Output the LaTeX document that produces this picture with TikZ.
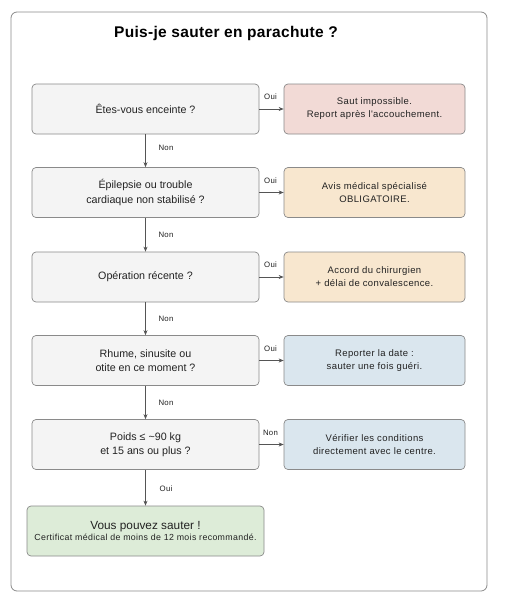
\documentclass[tikz,border=0pt]{standalone}
\usepackage{fontspec}
\setmainfont{Liberation Sans}
\newfontfamily\widefont[LetterSpace=4]{Liberation Sans}
\newfontfamily\midfont[LetterSpace=4]{Liberation Sans}
\newfontfamily\titlefont[LetterSpace=2]{Liberation Sans}
\usetikzlibrary{arrows.meta}
\definecolor{qfill}{HTML}{F4F4F4}
\definecolor{qdraw}{HTML}{8A8A8A}
\definecolor{redf}{HTML}{F2DAD6}
\definecolor{orf}{HTML}{F8E7CF}
\definecolor{bluf}{HTML}{DAE6EE}
\definecolor{grnf}{HTML}{DDECD8}
\definecolor{txt}{HTML}{222222}
\definecolor{arr}{HTML}{555555}
\tikzset{
  qbox/.style={draw=qdraw, fill=qfill, rounded corners=4pt, line width=0.7pt, minimum width=227pt, minimum height=50pt, align=center, font=\fontsize{10.7}{14.5}\selectfont, text=txt, inner sep=0pt},
  abox/.style={draw=qdraw, rounded corners=4pt, line width=0.7pt, minimum width=181pt, minimum height=50pt, align=center, font=\widefont\fontsize{9.5}{13}\selectfont, text=txt, inner sep=0pt},
  conn/.style={draw=arr, line width=0.7pt, -{Stealth[length=5pt,width=4pt]}},
  lab/.style={font=\midfont\fontsize{7.8}{9}\selectfont, text=txt, inner sep=0pt}
}
\begin{document}
\begin{tikzpicture}[x=1pt,y=-1pt]
\useasboundingbox (0,0) rectangle (510,600);
\draw[draw=qdraw, line width=0.8pt, rounded corners=6pt, fill=white] (11,12) rectangle (487,591);
\node[font=\titlefont\bfseries\fontsize{15.5}{17}\selectfont, text=black] (title) at (226,33) {Puis-je sauter en parachute ?};

\node[qbox] (q1) at (145.5,109) {Êtes-vous enceinte ?};
\node[qbox] (q2) at (145.5,192.5) {Épilepsie ou trouble\\cardiaque non stabilisé ?};
\node[qbox] (q3) at (145.5,277) {Opération récente ?};
\node[qbox] (q4) at (145.5,360.5) {Rhume, sinusite ou\\otite en ce moment ?};
\node[qbox] (q5) at (145.5,444.5) {Poids ≤ \textasciitilde 90 kg\\et 15 ans ou plus ?};

\node[abox, fill=redf] (a1) at (374.5,109) {Saut impossible.\\Report après l'accouchement.};
\node[abox, fill=orf] (a2) at (374.5,192.5) {Avis médical spécialisé\\OBLIGATOIRE.};
\node[abox, fill=orf] (a3) at (374.5,277) {Accord du chirurgien\\+ délai de convalescence.};
\node[abox, fill=bluf] (a4) at (374.5,360.5) {Reporter la date :\\sauter une fois guéri.};
\node[abox, fill=bluf] (a5) at (374.5,444.5) {Vérifier les conditions\\directement avec le centre.};

\node[draw=qdraw, fill=grnf, rounded corners=4pt, line width=0.7pt, minimum width=237pt, minimum height=50pt, align=center, text=txt, inner sep=0pt] (ok) at (145.5,531) {{\fontsize{11.8}{13}\selectfont Vous pouvez sauter !}\\[-1pt]{\midfont\fontsize{8.8}{10}\selectfont Certificat médical de moins de 12 mois recommandé.}};

\foreach \i in {1,...,5} {
  \draw[conn] (q\i.east) -- (a\i.west);
}
\draw[conn] (q1.south) -- (q2.north);
\draw[conn] (q2.south) -- (q3.north);
\draw[conn] (q3.south) -- (q4.north);
\draw[conn] (q4.south) -- (q5.north);
\draw[conn] (q5.south) -- (ok.north);

\node[lab] (o1) at (270.5,97) {Oui};
\node[lab] (o2) at (270.5,181) {Oui};
\node[lab] (o3) at (270.5,265) {Oui};
\node[lab] (o4) at (270.5,348.5) {Oui};
\node[lab] (o5) at (270.5,432.5) {Non};

\node[lab] (n1) at (166,148) {Non};
\node[lab] (n2) at (166,235) {Non};
\node[lab] (n3) at (166,318.5) {Non};
\node[lab] (n4) at (166,402.5) {Non};
\node[lab] (n5) at (166,489) {Oui};
\end{tikzpicture}
\end{document}
